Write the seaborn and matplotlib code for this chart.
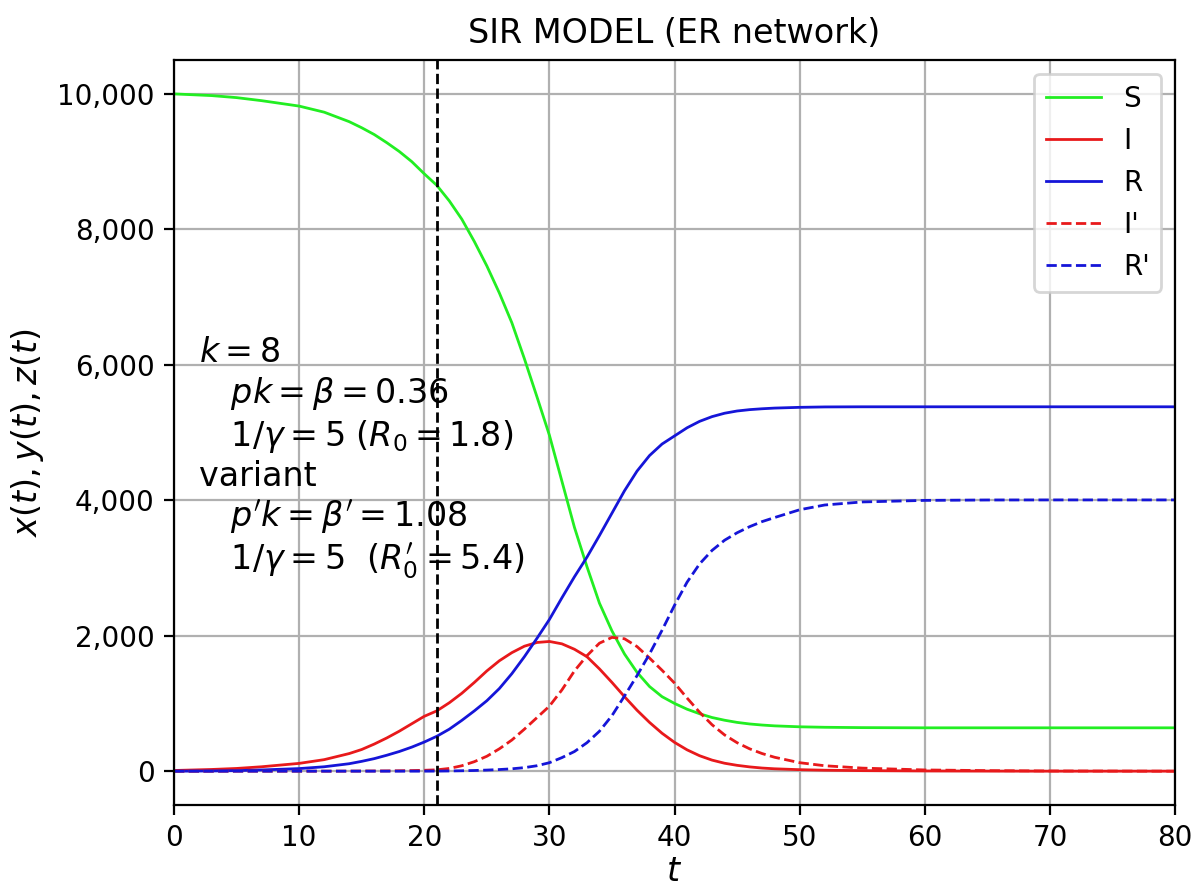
import matplotlib
matplotlib.use("Agg")
import matplotlib.pyplot as plt
import matplotlib.ticker as mticker
import seaborn as sns
import pandas as pd

# time points
t = [0, 3, 5, 7, 10, 12, 14, 15, 16, 17, 18, 19, 20, 21, 22, 23, 24, 25, 26, 27,
     28, 29, 30, 31, 32, 33, 34, 35, 36, 37, 38, 39, 40, 41, 42, 43, 44, 45, 46,
     47, 48, 50, 52, 55, 60, 65, 70, 80]

S = [10000, 9975, 9945, 9900, 9820, 9730, 9590, 9500, 9400, 9280, 9150, 9000, 8820, 8650,
     8420, 8150, 7820, 7460, 7060, 6620, 6090, 5530, 4960, 4280, 3600, 3020, 2480, 2070,
     1730, 1460, 1250, 1100, 1000, 915, 848, 792, 752, 720, 697, 681, 669, 655, 648, 643,
     640, 640, 640, 640]

I = [10, 25, 40, 65, 115, 170, 260, 320, 400, 490, 590, 700, 810, 890, 1010, 1150, 1310,
     1480, 1630, 1750, 1845, 1900, 1915, 1880, 1800, 1690, 1510, 1310, 1100, 900, 720, 560,
     425, 315, 228, 163, 117, 86, 63, 46, 35, 22, 14, 8, 3, 1, 0, 0]

R = [0, 3, 8, 18, 38, 65, 110, 145, 185, 235, 290, 355, 430, 515, 620, 750, 890, 1040,
     1220, 1440, 1690, 1960, 2240, 2560, 2870, 3160, 3480, 3810, 4140, 4430, 4660, 4830,
     4950, 5070, 5165, 5235, 5285, 5318, 5338, 5351, 5361, 5372, 5378, 5380, 5380, 5380,
     5380, 5380]

I_var = [0, 0, 0, 0, 0, 0, 1, 2, 3, 4, 6, 9, 13, 20, 40, 80, 140, 220, 330, 460, 620, 790,
         960, 1200, 1480, 1705, 1890, 1975, 1955, 1840, 1670, 1490, 1300, 1080, 870, 685,
         535, 420, 330, 260, 205, 125, 80, 45, 18, 8, 3, 0]

R_var = [0, 0, 0, 0, 0, 0, 0, 0, 0, 0, 0, 0, 0, 1, 3, 6, 10, 16, 24, 35, 52, 80, 125, 200,
         290, 420, 590, 820, 1110, 1410, 1730, 2080, 2450, 2790, 3060, 3260, 3410, 3520,
         3610, 3685, 3745, 3860, 3930, 3975, 3998, 4004, 4005, 4005]

series_names = ["S", "I", "R", "I'", "R'"]
vline_t = 21
x_ticks = [0, 10, 20, 30, 40, 50, 60, 70, 80]
y_ticks = [0, 2000, 4000, 6000, 8000, 10000]

df = pd.DataFrame({"t": t, "S": S, "I": I, "R": R, "I'": I_var, "R'": R_var})
long = df.melt(id_vars="t", var_name="series", value_name="value")

colors = {"S": "#22ee22", "I": "#e8191b", "R": "#1515d8", "I'": "#e8191b", "R'": "#1515d8"}
dashes = {"S": "", "I": "", "R": "", "I'": (3.7, 1.6), "R'": (3.7, 1.6)}

fig = plt.figure(figsize=(5.98, 4.46), dpi=200)
ax = fig.add_axes([0.1455, 0.0975, 0.837, 0.8352])

sns.lineplot(data=long, x="t", y="value", hue="series", style="series",
             hue_order=series_names, style_order=series_names,
             palette=colors, dashes=dashes, linewidth=1.0, ax=ax)

ax.axvline(vline_t, color="black", linestyle="--", linewidth=1.0)

ax.set_xlim(0, 80)
ax.set_ylim(-500, 10500)
ax.set_xticks(x_ticks)
ax.set_yticks(y_ticks)
ax.yaxis.set_major_formatter(mticker.StrMethodFormatter("{x:,.0f}"))
ax.grid(True, color="#b0b0b0", linewidth=0.8)
ax.set_axisbelow(True)

ax.set_title("SIR MODEL (ER network)", fontsize=12)
ax.set_xlabel("$t$", fontsize=12, labelpad=1)
ax.set_ylabel("$x(t), y(t), z(t)$", fontsize=12)

txt = ("$k=8$\n"
       "   $pk=\\beta=0.36$\n"
       "   $1/\\gamma=5$ $(R_0=1.8)$\n"
       "variant\n"
       "   $p'k=\\beta'=1.08$\n"
       "   $1/\\gamma=5$  $(R_0'=5.4)$")
ax.text(2.0, 6420, txt, fontsize=12, va="top", ha="left", linespacing=1.2)

handles, labels = ax.get_legend_handles_labels()
ax.legend(handles, labels, loc="upper right", fontsize=10)

fig.savefig("out.png", dpi=200)
